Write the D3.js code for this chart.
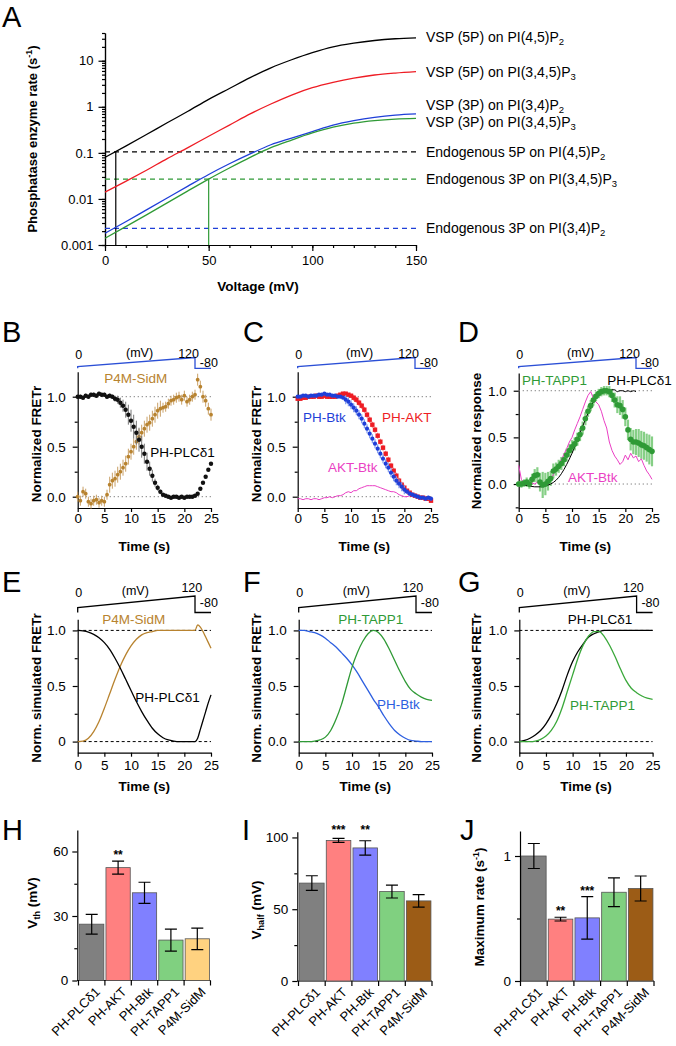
<!DOCTYPE html>
<html>
<head>
<meta charset="utf-8">
<script src="https://cdn.jsdelivr.net/npm/d3@7"></script>
<style>
  body { margin: 0; background: #fff; }
  svg { font-family: "Liberation Sans", Arial, Helvetica, sans-serif; }
</style>
</head>
<body>
<div class="fig"></div>
<script>
// ---------------- data ----------------
// A: phosphatase rates vs voltage
var voltA = [0, 10, 20, 30, 40, 50, 60, 70, 80, 90, 100, 110, 120, 130, 140, 150];
var vsp5P_PI45P2 = [0.08, 0.14, 0.25, 0.45, 0.8, 1.45, 2.5, 4.3, 7.0, 10.5, 15, 20, 24, 27.5, 30, 31.5];
var vsp5P_PI345P3 = [0.014, 0.024, 0.042, 0.075, 0.13, 0.23, 0.4, 0.7, 1.15, 1.8, 2.6, 3.4, 4.2, 4.9, 5.4, 5.8];
var vsp3P_PI34P2 = [0.0018, 0.0032, 0.0058, 0.0105, 0.019, 0.034, 0.058, 0.095, 0.15, 0.21, 0.29, 0.4, 0.5, 0.59, 0.66, 0.7];
var vsp3P_PI345P3 = [0.0014, 0.0025, 0.0045, 0.0082, 0.015, 0.027, 0.047, 0.08, 0.13, 0.19, 0.27, 0.36, 0.44, 0.5, 0.54, 0.56];
var endoRates = [0.105, 0.027, 0.0023];   // 5P on PI(4,5)P2, 3P on PI(3,4,5)P3, 3P on PI(3,4)P2
var thresholdV = [5.2, 50];

// voltage protocol (B-G)
var protoT = [0, 0, 22, 22, 25];
var protoV = [-80, 0, 120, -80, -80];

// B-D: measured FRETr, sampled every 0.5 s
var tMeas = d3.range(0, 25.001, 0.5);
var plcB = [1.00,1.00,0.99,1.01,1.00,1.02,1.02,1.01,1.03,1.02,1.02,1.00,1.01,1.00,0.98,0.97,0.94,0.91,0.87,0.82,0.76,0.70,0.64,0.57,0.50,0.43,0.35,0.28,0.21,0.14,0.09,0.05,0.02,0.01,0.00,-0.01,0.00,0.00,-0.01,0.00,-0.01,0.00,0.00,0.00,0.01,0.03,0.08,0.14,0.20,0.27,0.33];
var plcBErr = [0.02,0.02,0.02,0.02,0.02,0.02,0.02,0.02,0.02,0.02,0.02,0.02,0.02,0.02,0.03,0.04,0.05,0.06,0.08,0.10,0.11,0.12,0.12,0.12,0.11,0.10,0.09,0.07,0.06,0.04,0.03,0.02,0.015,0.015,0.015,0.015,0.015,0.015,0.015,0.015,0.015,0.015,0.015,0.015,0.015,0.015,0.015,0.015,0.015,0.015,0.015];
var sidmB = [0.00,-0.04,0.05,0.03,-0.05,-0.07,-0.04,-0.03,-0.06,-0.04,-0.05,0.02,0.12,0.16,0.18,0.22,0.25,0.29,0.33,0.40,0.45,0.50,0.55,0.60,0.64,0.68,0.72,0.74,0.78,0.82,0.86,0.88,0.89,0.90,0.93,0.96,0.97,0.99,1.00,0.97,1.01,0.95,0.97,1.00,1.02,1.17,1.10,1.00,0.96,0.88,0.82];
var sidmBErr = [0.05,0.05,0.05,0.05,0.05,0.05,0.05,0.05,0.05,0.05,0.05,0.05,0.08,0.08,0.08,0.08,0.08,0.08,0.08,0.08,0.08,0.08,0.08,0.08,0.08,0.08,0.08,0.08,0.08,0.08,0.08,0.08,0.05,0.05,0.05,0.05,0.05,0.05,0.05,0.05,0.05,0.05,0.05,0.05,0.05,0.06,0.06,0.06,0.06,0.06,0.06];
var aktC = [0.98,0.98,0.99,0.99,1.00,1.00,1.00,1.01,1.00,1.00,1.01,1.00,1.00,1.00,1.00,1.01,1.02,1.03,1.03,1.02,1.01,0.99,0.97,0.94,0.91,0.87,0.82,0.77,0.72,0.67,0.61,0.55,0.49,0.43,0.37,0.31,0.26,0.21,0.16,0.12,0.09,0.06,0.04,0.02,0.01,0.00,-0.01,-0.01,-0.02,-0.02,-0.04];
var aktCErr = [0.015,0.015,0.015,0.015,0.015,0.015,0.015,0.015,0.015,0.015,0.015,0.015,0.015,0.015,0.015,0.015,0.015,0.015,0.015,0.015,0.015,0.03,0.03,0.03,0.03,0.03,0.03,0.03,0.03,0.03,0.03,0.03,0.03,0.03,0.03,0.03,0.03,0.03,0.03,0.03,0.03,0.015,0.015,0.015,0.015,0.015,0.015,0.015,0.015,0.015,0.015];
var btkC = [1.00,1.00,1.01,1.01,1.00,1.01,1.01,1.01,1.02,1.02,1.03,1.02,1.02,1.01,1.01,1.00,1.00,0.99,0.97,0.95,0.92,0.89,0.86,0.82,0.78,0.73,0.68,0.63,0.58,0.53,0.48,0.43,0.38,0.33,0.29,0.24,0.20,0.16,0.13,0.10,0.07,0.05,0.03,0.02,0.01,0.00,-0.01,-0.01,-0.02,-0.01,-0.02];
var btkCErr = [0.015,0.015,0.015,0.015,0.015,0.015,0.015,0.015,0.015,0.015,0.015,0.015,0.015,0.015,0.015,0.015,0.015,0.015,0.045,0.045,0.045,0.045,0.045,0.045,0.045,0.045,0.045,0.045,0.045,0.045,0.045,0.045,0.045,0.045,0.045,0.045,0.045,0.045,0.045,0.045,0.045,0.02,0.02,0.02,0.02,0.02,0.02,0.02,0.02,0.02,0.02];
var aktMinusBtkC = [-0.02,-0.02,-0.03,-0.02,-0.02,-0.03,-0.02,-0.02,-0.03,-0.02,-0.01,-0.01,0.00,-0.01,0.00,0.01,0.01,0.02,0.04,0.05,0.04,0.06,0.06,0.08,0.09,0.10,0.11,0.11,0.11,0.11,0.10,0.09,0.08,0.07,0.06,0.05,0.05,0.04,0.02,0.01,0.00,0.00,0.01,0.00,0.00,0.01,-0.01,-0.01,-0.01,-0.02,-0.04];
var tapp1D = [0.00,0.00,0.01,0.02,0.00,0.05,0.09,0.10,0.02,-0.01,0.00,0.03,0.06,0.14,0.16,0.19,0.22,0.26,0.31,0.36,0.40,0.43,0.48,0.53,0.60,0.70,0.78,0.84,0.90,0.94,0.97,0.99,1.00,1.00,0.99,0.95,0.90,0.85,0.84,0.80,0.72,0.58,0.48,0.45,0.45,0.44,0.42,0.41,0.39,0.37,0.35];
var tapp1DErr = [0.03,0.04,0.04,0.05,0.05,0.06,0.07,0.08,0.10,0.14,0.12,0.10,0.08,0.08,0.07,0.07,0.07,0.07,0.07,0.07,0.07,0.07,0.07,0.07,0.07,0.07,0.06,0.06,0.06,0.05,0.05,0.05,0.05,0.05,0.06,0.07,0.08,0.09,0.10,0.10,0.10,0.11,0.12,0.13,0.14,0.15,0.15,0.15,0.15,0.16,0.16];
var akt_btkD = [0.20,0.05,0.01,0.00,0.02,0.01,0.00,0.02,0.00,0.01,0.00,0.02,0.05,0.10,0.16,0.21,0.26,0.32,0.38,0.45,0.50,0.58,0.65,0.72,0.80,0.88,0.95,0.99,0.92,0.88,0.85,0.78,0.68,0.60,0.45,0.36,0.30,0.26,0.21,0.24,0.31,0.26,0.33,0.28,0.30,0.24,0.27,0.20,0.14,0.10,0.05];
var tPlcD = [0, 1, 2, 3, 4, 5, 6, 7, 8, 9, 10, 11, 12, 13, 14, 15, 15.5, 16, 16.5, 17, 17.5, 18, 18.5, 19, 19.5, 20, 20.5, 21, 21.5, 22];
var plcD = [0.00,-0.01,-0.02,-0.03,-0.03,-0.02,0.00,0.04,0.11,0.21,0.33,0.47,0.62,0.76,0.88,0.96,0.99,1.00,1.00,0.99,1.01,1.01,0.99,1.00,1.00,0.99,1.00,0.99,1.00,0.99];

// E-G: simulated FRETr
var tSim = d3.range(0, 26, 1);
var tSimE = [0,1,2,3,4,5,6,7,8,9,10,11,12,13,14,15,16,17,18,19,20,21,22,22.5,23,23.5,24,24.5,25];
var plcE = [1.0,0.995,0.985,0.965,0.935,0.89,0.83,0.75,0.66,0.56,0.46,0.36,0.27,0.19,0.12,0.07,0.035,0.015,0.005,0,0,0,0,0.03,0.11,0.19,0.27,0.35,0.42];
var sidmE = [0,0.005,0.03,0.09,0.18,0.30,0.43,0.56,0.68,0.78,0.86,0.92,0.96,0.98,0.99,1.0,1.0,1.0,1.0,1.0,1.0,1.0,1.0,1.05,1.03,0.99,0.94,0.89,0.84];
var btkF = [1.0,1.0,0.99,0.98,0.96,0.93,0.89,0.85,0.80,0.75,0.69,0.62,0.54,0.46,0.38,0.31,0.23,0.16,0.10,0.06,0.03,0.01,0.005,0,0,0];
var tapp1F = [0,0,0,0.005,0.015,0.04,0.1,0.2,0.33,0.5,0.67,0.8,0.9,0.97,1.0,0.98,0.92,0.83,0.73,0.63,0.54,0.47,0.43,0.40,0.38,0.37];
var plcG = [0,0.01,0.03,0.06,0.1,0.16,0.24,0.34,0.46,0.6,0.72,0.81,0.88,0.94,0.97,0.99,1.0,1.0,1.0,1.0,1.0,1.0,1.0,1.0,1.0,1.0];
var tapp1G = [0,0,0,0.005,0.02,0.05,0.1,0.18,0.3,0.45,0.6,0.75,0.87,0.95,0.99,0.99,0.94,0.86,0.76,0.65,0.55,0.48,0.44,0.41,0.39,0.38];

// H-J: bar summaries
var probes = ["PH-PLC\u03b41", "PH-AKT", "PH-Btk", "PH-TAPP1", "P4M-SidM"];
var vth = [26.2, 52.5, 40.8, 18.8, 19.4];
var vthErr = [4.6, 3.0, 4.9, 5.1, 5.0];
var vthStars = ["", "**", "", "", ""];
var vhalf = [68.2, 97.9, 92.7, 62.3, 55.8];
var vhalfErr = [5.1, 1.4, 5.0, 4.5, 4.3];
var vhalfStars = ["", "***", "**", "", ""];
var maxRate = [1.0, 0.495, 0.505, 0.71, 0.74];
var maxRateErr = [0.1, 0.015, 0.17, 0.115, 0.1];
var maxRateStars = ["", "**", "***", "", ""];

// ---------------- drawing ----------------
var svg = d3.select(".fig").append("svg").attr("width", 676).attr("height", 1046);
svg.append("rect").attr("width", 676).attr("height", 1046).attr("fill", "#fff");

var ORANGE = "#b8832f", RED = "#ee1c24", BLUE = "#1f3fd8", GREEN = "#2f9a36", MAG = "#ea3fc4";

function tidy(g, fs) {
  g.attr("font-family", null).attr("font-size", fs || null);
  g.selectAll("path, line").attr("stroke", "#000").attr("stroke-width", 1.2);
  g.selectAll("text").attr("fill", "#000");
}

function letter(t, x, y) {
  svg.append("text").attr("x", x).attr("y", y).attr("font-size", 29).text(t);
}

function yTitle(parts, x, y, fs) {
  var t = svg.append("text").attr("transform", "translate(" + x + "," + y + ") rotate(-90)")
    .attr("text-anchor", "middle").attr("font-weight", "bold").attr("font-size", fs || 13.5);
  parts.forEach(function(p) {
    var s = t.append("tspan").text(p.t);
    if (p.fs) s.attr("font-size", p.fs);
    if (p.dy) s.attr("dy", p.dy);
  });
}

function subLabel(g, x, y, main, sub, fill) {
  var t = g.append("text").attr("x", x).attr("y", y).attr("dy", "0.35em").attr("font-size", 14).attr("fill", fill || "#000");
  t.append("tspan").text(main);
  t.append("tspan").attr("font-size", 9.5).attr("dy", 3).text(sub);
}

// ---------- A ----------
letter("A", 2, 27);
var xA = d3.scaleLinear().domain([0, 150]).range([105, 416]);
var yA = d3.scaleLog().domain([0.001, 40]).range([245, 33]);
var gA = svg.append("g");

var gAx = gA.append("g").attr("transform", "translate(0,245)")
  .call(d3.axisBottom(xA).tickValues(d3.range(0, 151, 10)).tickFormat("").tickSize(3).tickSizeOuter(0));
tidy(gAx);
var gAx2 = gA.append("g").attr("transform", "translate(0,245)")
  .call(d3.axisBottom(xA).tickValues([0, 50, 100, 150]).tickSize(6).tickPadding(5).tickSizeOuter(0));
tidy(gAx2, 13);
var gAy = gA.append("g").attr("transform", "translate(105,0)")
  .call(d3.axisLeft(yA).tickValues(yA.ticks()).tickFormat("").tickSize(3).tickSizeOuter(0));
tidy(gAy);
var gAy2 = gA.append("g").attr("transform", "translate(105,0)")
  .call(d3.axisLeft(yA).tickValues([0.001, 0.01, 0.1, 1, 10]).tickFormat(d3.format("~g")).tickSize(6.5).tickPadding(5).tickSizeOuter(0));
tidy(gAy2, 13);

var endoCols = ["#000", GREEN, BLUE];
var endoLabels = [["Endogenous 5P on PI(4,5)P", "2"], ["Endogenous 3P on PI(3,4,5)P", "3"], ["Endogenous 3P on PI(3,4)P", "2"]];
endoRates.forEach(function(r, i) {
  gA.append("line").attr("x1", xA(0)).attr("x2", xA(150)).attr("y1", yA(r)).attr("y2", yA(r))
    .attr("stroke", endoCols[i]).attr("stroke-width", 1.2).attr("stroke-dasharray", "5,4");
  subLabel(gA, 426, yA(r), endoLabels[i][0], endoLabels[i][1]);
});
gA.append("line").attr("x1", xA(thresholdV[0])).attr("x2", xA(thresholdV[0]))
  .attr("y1", yA(0.001)).attr("y2", yA(endoRates[0])).attr("stroke", "#000").attr("stroke-width", 1.2);
gA.append("line").attr("x1", xA(thresholdV[1])).attr("x2", xA(thresholdV[1]))
  .attr("y1", yA(0.001)).attr("y2", yA(endoRates[1])).attr("stroke", GREEN).attr("stroke-width", 1.2);

var curvesA = [
  { v: vsp5P_PI45P2, c: "#000", lab: ["VSP (5P) on PI(4,5)P", "2"], off: -1 },
  { v: vsp5P_PI345P3, c: RED, lab: ["VSP (5P) on PI(3,4,5)P", "3"], off: 0 },
  { v: vsp3P_PI34P2, c: BLUE, lab: ["VSP (3P) on PI(3,4)P", "2"], off: -9 },
  { v: vsp3P_PI345P3, c: GREEN, lab: ["VSP (3P) on PI(3,4,5)P", "3"], off: 4 }
];
var lineA = d3.line().x(function(d) { return xA(d[0]); }).y(function(d) { return yA(d[1]); }).curve(d3.curveMonotoneX);
curvesA.forEach(function(c) {
  gA.append("path").attr("d", lineA(d3.zip(voltA, c.v))).attr("fill", "none").attr("stroke", c.c).attr("stroke-width", 1.3);
  subLabel(gA, 426, yA(c.v[c.v.length - 1]) + c.off, c.lab[0], c.lab[1]);
});
yTitle([{ t: "Phosphatase enzyme rate (s" }, { t: "-1", fs: 9, dy: -5 }, { t: ")", dy: 5 }], 37, 139, 13);
svg.append("text").attr("x", 258).attr("y", 291).attr("text-anchor", "middle").attr("font-weight", "bold").attr("font-size", 13.5).text("Voltage (mV)");

// ---------- time panels ----------
function timePanel(c) {
  var g = svg.append("g");
  var x = d3.scaleLinear().domain([0, 25]).range([c.x0, c.x0 + 133.3]);
  var y = d3.scaleLinear().domain(c.yDom).range(c.yRange);
  var gx = g.append("g").attr("transform", "translate(0," + c.yRange[0] + ")")
    .call(d3.axisBottom(x).tickValues([0, 5, 10, 15, 20, 25]).tickSize(4).tickPadding(c.xPad).tickSizeOuter(0));
  tidy(gx, 13.5);
  var gy = g.append("g").attr("transform", "translate(" + c.x0 + ",0)")
    .call(d3.axisLeft(y).tickValues(c.yMinor).tickFormat("").tickSize(3).tickSizeOuter(0));
  tidy(gy);
  var gy2 = g.append("g").attr("transform", "translate(" + c.x0 + ",0)")
    .call(d3.axisLeft(y).tickValues([0, 0.5, 1]).tickFormat(function(d, i) { return c.yLabels[i]; }).tickSize(5).tickPadding(7).tickSizeOuter(0));
  gy2.select(".domain").remove();
  tidy(gy2, 13.5);

  // reference lines at 0 and 1
  [0, 1].forEach(function(v) {
    g.append("line").attr("x1", x(0)).attr("x2", x(25)).attr("y1", y(v)).attr("y2", y(v))
      .attr("stroke", c.refCol).attr("stroke-width", 1).attr("stroke-dasharray", c.refDash);
  });

  // voltage protocol
  var vp = d3.scaleLinear().domain([-80, 0, 120]).range(c.proto);
  var pl = d3.line().x(function(d) { return x(d[0]); }).y(function(d) { return vp(d[1]); });
  g.append("path").attr("d", pl(d3.zip(protoT, protoV))).attr("fill", "none").attr("stroke", c.protoCol).attr("stroke-width", 1.3);
  var pt = g.append("g").attr("font-size", 12.5);
  pt.append("text").attr("x", x(0) + 1).attr("y", c.pb[0]).attr("text-anchor", "middle").text("0");
  pt.append("text").attr("x", x(c.mvT)).attr("y", c.pb[1]).attr("text-anchor", "middle").text("(mV)");
  pt.append("text").attr("x", x(c.v120T)).attr("y", c.pb[2]).attr("text-anchor", "middle").text("120");
  pt.append("text").attr("x", x(22.9)).attr("y", c.pb[3]).text("-80");

  g.append("text").attr("x", x(12.5)).attr("y", c.tb).attr("text-anchor", "middle")
    .attr("font-weight", "bold").attr("font-size", 13.5).text("Time (s)");
  return { g: g, x: x, y: y };
}

function errDots(p, t, v, e, col, ecol, ew, shape, r) {
  p.g.append("g").selectAll("line").data(t).join("line")
    .attr("x1", function(d) { return p.x(d); }).attr("x2", function(d) { return p.x(d); })
    .attr("y1", function(d, i) { return p.y(v[i] - e[i]); }).attr("y2", function(d, i) { return p.y(v[i] + e[i]); })
    .attr("stroke", ecol).attr("stroke-width", ew);
  var m = p.g.append("g").attr("fill", col);
  if (shape === "square") {
    m.selectAll("rect").data(t).join("rect")
      .attr("x", function(d) { return p.x(d) - r; }).attr("y", function(d, i) { return p.y(v[i]) - r; })
      .attr("width", 2 * r).attr("height", 2 * r);
  } else {
    m.selectAll("circle").data(t).join("circle")
      .attr("cx", function(d) { return p.x(d); }).attr("cy", function(d, i) { return p.y(v[i]); }).attr("r", r);
  }
}

function trace(p, t, v, col, w, curve) {
  var l = d3.line().x(function(d) { return p.x(d[0]); }).y(function(d) { return p.y(d[1]); });
  if (curve) l.curve(curve);
  p.g.append("path").attr("d", l(d3.zip(t, v))).attr("fill", "none").attr("stroke", col).attr("stroke-width", w);
}

function tag(p, t, v, txt, col) {
  p.g.append("text").attr("x", p.x(t)).attr("y", p.y(v)).attr("font-size", 13.5).attr("fill", col).text(txt);
}

var row2 = { yRange: [508, 371.7], yDom: [-0.113, 1.25], yMinor: [0.25, 0.75], yLabels: ["0.0", "0.5", "1.0"],
  xPad: 1.5, refCol: "#777", refDash: "1.2,2.8", proto: [368.3, 366.5, 357.5], protoCol: "#2b4fd6",
  pb: [358.5, 357, 357.5, 366.5], mvT: 11.6, v120T: 20.8, tb: 551 };

// B
letter("B", 2, 342);
var pB = timePanel(Object.assign({}, row2, { x0: 77.7 }));
errDots(pB, tMeas, sidmB, sidmBErr, ORANGE, "#c9a067", 1, "circle", 1.9);
errDots(pB, tMeas, plcB, plcBErr, "#111", "#777", 1, "circle", 2.2);
tag(pB, 5.0, 1.14, "P4M-SidM", ORANGE);
tag(pB, 13.6, 0.40, "PH-PLC\u03b41", "#000");
yTitle([{ t: "Normalized FRETr" }], 41, 444);

// C
letter("C", 243, 342);
var pC = timePanel(Object.assign({}, row2, { x0: 297.7 }));
trace(pC, tMeas, aktMinusBtkC, MAG, 1);
errDots(pC, tMeas, aktC, aktCErr, RED, "#f08080", 1.2, "square", 2.2);
errDots(pC, tMeas, btkC, btkCErr, BLUE, "#7f9cf0", 1.2, "circle", 2.1);
tag(pC, 1.0, 0.75, "PH-Btk", BLUE);
tag(pC, 15.8, 0.75, "PH-AKT", RED);
tag(pC, 5.7, 0.25, "AKT-Btk", MAG);
yTitle([{ t: "Normalized FRETr" }], 261, 444);

// D
letter("D", 458, 342);
var pD = timePanel(Object.assign({}, row2, { x0: 518.7, yRange: [508, 373], yDom: [-0.257, 1.19], yMinor: [-0.25, 0.25, 0.75] }));
errDots(pD, tMeas, tapp1D, tapp1DErr, GREEN, "#86cf86", 2.2, "circle", 0);
trace(pD, tMeas, akt_btkD, MAG, 1);
trace(pD, tPlcD, plcD, "#000", 1, d3.curveMonotoneX);
errDots(pD, tMeas, tapp1D, tapp1D.map(function() { return 0; }), GREEN, GREEN, 0, "circle", 2.8);
tag(pD, 0.6, 1.06, "PH-TAPP1", GREEN);
tag(pD, 16.6, 1.06, "PH-PLC\u03b41", "#000");
tag(pD, 9.25, 0.025, "AKT-Btk", MAG);
yTitle([{ t: "Normalized response" }], 481, 441);

// E-G
var row3 = { yRange: [752.7, 619.3], yDom: [-0.1, 1.1], yMinor: [0.25, 0.75], yLabels: ["0.0", "0.5", "1.0"],
  xPad: 3.5, refCol: "#000", refDash: "3,2.5", proto: [612.5, 607.5, 596], protoCol: "#000",
  pb: [596.7, 594.5, 591.7, 607.3], mvT: 10.8, v120T: 21.4, tb: 791 };

letter("E", 2, 592);
var pE = timePanel(Object.assign({}, row3, { x0: 77.7, yLabels: ["0", "0.5", "1.0"] }));
trace(pE, tSimE, sidmE, ORANGE, 1.3, d3.curveMonotoneX);
trace(pE, tSimE, plcE, "#000", 1.3, d3.curveMonotoneX);
tag(pE, 4.6, 1.06, "P4M-SidM", ORANGE);
tag(pE, 10.8, 0.36, "PH-PLC\u03b41", "#000");
yTitle([{ t: "Norm. simulated FRETr" }], 41, 688);

letter("F", 243, 592);
var pF = timePanel(Object.assign({}, row3, { x0: 298.7 }));
trace(pF, tSim, btkF, "#2d5fe0", 1.3, d3.curveMonotoneX);
trace(pF, tSim, tapp1F, GREEN, 1.3, d3.curveMonotoneX);
tag(pF, 7.4, 1.06, "PH-TAPP1", GREEN);
tag(pF, 14.7, 0.295, "PH-Btk", "#2d5fe0");
yTitle([{ t: "Norm. simulated FRETr" }], 261, 688);

letter("G", 458, 592);
var pG = timePanel(Object.assign({}, row3, { x0: 519.3 }));
trace(pG, tSim, plcG, "#000", 1.3, d3.curveMonotoneX);
trace(pG, tSim, tapp1G, "#3aa83a", 1.3, d3.curveMonotoneX);
tag(pG, 9.1, 1.06, "PH-PLC\u03b41", "#000");
tag(pG, 9.5, 0.285, "PH-TAPP1", GREEN);
yTitle([{ t: "Norm. simulated FRETr" }], 481, 688);

// ---------- bars ----------
function barPanel(c) {
  var g = svg.append("g");
  var x = d3.scaleBand().domain(probes).range([c.x0, c.x1]).paddingInner(0.08).paddingOuter(0.04);
  var y = d3.scaleLinear().domain(c.yDom).range([c.yBot, c.yTop]);
  var bw = x.bandwidth(), gap = x.step() - bw;

  var gy = g.append("g").attr("transform", "translate(" + c.yAxisX + ",0)")
    .call(d3.axisLeft(y).tickValues(c.minor).tickFormat("").tickSize(3).tickSizeOuter(0));
  tidy(gy);
  var gy2 = g.append("g").attr("transform", "translate(" + c.yAxisX + ",0)")
    .call(d3.axisLeft(y).tickValues(c.major).tickFormat(d3.format("~g")).tickSize(5).tickPadding(4).tickSizeOuter(0));
  gy2.select(".domain").remove();
  tidy(gy2, 13.5);

  g.append("line").attr("x1", c.yAxisX).attr("x2", c.x1).attr("y1", c.yBot).attr("y2", c.yBot)
    .attr("stroke", "#000").attr("stroke-width", 1.2);
  var bounds = probes.map(function(p) { return x(p) - gap / 2; }).concat([c.x1]);
  g.selectAll(".bt").data(bounds).join("line")
    .attr("x1", function(d) { return d; }).attr("x2", function(d) { return d; })
    .attr("y1", c.yBot).attr("y2", c.yBot + 5).attr("stroke", "#000").attr("stroke-width", 1.2);

  g.selectAll(".bar").data(probes).join("rect")
    .attr("x", function(d) { return x(d); }).attr("width", bw)
    .attr("y", function(d, i) { return y(c.v[i]); })
    .attr("height", function(d, i) { return c.yBot - y(c.v[i]); })
    .attr("fill", function(d, i) { return c.colors[i]; })
    .attr("stroke", "#555").attr("stroke-width", 0.8);

  probes.forEach(function(p, i) {
    var cx = x(p) + bw / 2, lo = y(c.v[i] - c.e[i]), hi = y(c.v[i] + c.e[i]);
    g.append("path").attr("d", "M" + cx + "," + lo + "V" + hi + "M" + (cx - 6) + "," + hi + "H" + (cx + 6) + "M" + (cx - 6) + "," + lo + "H" + (cx + 6))
      .attr("stroke", "#000").attr("stroke-width", 1.2).attr("fill", "none");
    if (c.stars[i]) {
      g.append("text").attr("x", cx).attr("y", (c.starY ? c.starY : hi - 2)).attr("text-anchor", "middle")
        .attr("font-size", 12).attr("font-weight", "bold").text(c.stars[i]);
    }
    g.append("text").attr("transform", "translate(" + (cx + 6) + "," + (c.yBot + 9) + ") rotate(-45)")
      .attr("text-anchor", "end").attr("dy", "0.35em").attr("font-size", 13).text(p);
  });
  return { x: x, y: y };
}

var barColors = ["#808080", "#ff8080", "#8080ff", "#80d080", "#ffd280"];
var barColors2 = ["#808080", "#ff8080", "#8080ff", "#80d080", "#9c5c16"];

letter("H", 2, 840);
barPanel({ x0: 78.5, x1: 210.5, yAxisX: 77.3, yBot: 980.5, yTop: 830, yDom: [0, 70], major: [0, 30, 60], minor: [15, 45],
  v: vth, e: vthErr, stars: vthStars, colors: barColors });
yTitle([{ t: "V" }, { t: "th", fs: 9, dy: 3 }, { t: " (mV)", dy: -3 }], 37, 903);

letter("I", 242, 840);
barPanel({ x0: 298.5, x1: 432, yAxisX: 297.3, yBot: 981, yTop: 831.7, yDom: [0, 104], major: [0, 50, 100], minor: [25, 75],
  v: vhalf, e: vhalfErr, stars: vhalfStars, colors: barColors2, starY: 834 });
yTitle([{ t: "V" }, { t: "half", fs: 9, dy: 3 }, { t: " (mV)", dy: -3 }], 261, 910);

letter("J", 460, 840);
barPanel({ x0: 520.5, x1: 654, yAxisX: 520, yBot: 981, yTop: 831, yDom: [0, 1.2], major: [0, 1], minor: [0.5],
  v: maxRate, e: maxRateErr, stars: maxRateStars, colors: barColors2 });
yTitle([{ t: "Maximum rate (s" }, { t: "-1", fs: 9, dy: -5 }, { t: ")", dy: 5 }], 484, 907);
</script>
</body>
</html>
